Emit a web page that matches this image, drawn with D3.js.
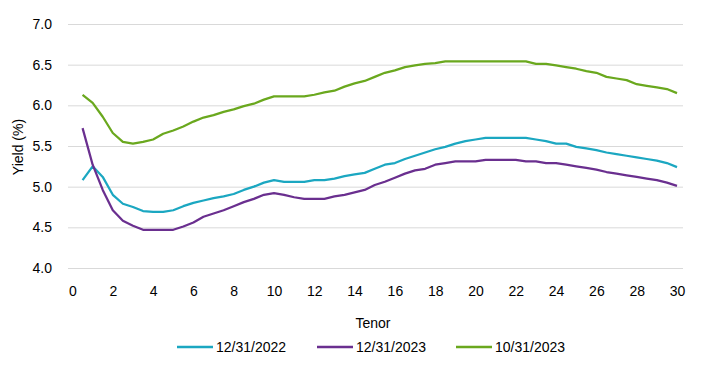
<!DOCTYPE html>
<html><head><meta charset="utf-8">
<script src="https://cdn.jsdelivr.net/npm/d3@7"></script>
<style>
html,body{margin:0;padding:0;background:#fff;}
svg{display:block;font-family:"Liberation Sans",Arial,sans-serif;}
</style></head>
<body><svg id="c" width="704" height="372"></svg>
<script>
const tenors = [0.5,1,1.5,2,2.5,3,3.5,4,4.5,5,5.5,6,6.5,7,7.5,8,8.5,9,9.5,10,
  10.5,11,11.5,12,12.5,13,13.5,14,14.5,15,15.5,16,16.5,17,17.5,18,18.5,19,19.5,20,
  20.5,21,21.5,22,22.5,23,23.5,24,24.5,25,25.5,26,26.5,27,27.5,28,28.5,29,29.5,30];
const y2022 = [5.08,5.25,5.12,4.90,4.79,4.75,4.70,4.69,4.69,4.71,4.76,4.80,4.83,4.86,4.88,4.91,4.96,5.00,5.05,5.08,
  5.06,5.06,5.06,5.08,5.08,5.10,5.13,5.15,5.17,5.22,5.27,5.29,5.34,5.38,5.42,5.46,5.49,5.53,5.56,5.58,
  5.60,5.60,5.60,5.60,5.60,5.58,5.56,5.53,5.53,5.49,5.47,5.45,5.42,5.40,5.38,5.36,5.34,5.32,5.29,5.24];
const y2023 = [5.72,5.27,4.96,4.71,4.58,4.52,4.47,4.47,4.47,4.47,4.51,4.56,4.63,4.67,4.71,4.76,4.81,4.85,4.90,4.92,
  4.90,4.87,4.85,4.85,4.85,4.88,4.90,4.93,4.96,5.02,5.06,5.11,5.16,5.20,5.22,5.27,5.29,5.31,5.31,5.31,
  5.33,5.33,5.33,5.33,5.31,5.31,5.29,5.29,5.27,5.25,5.23,5.21,5.18,5.16,5.14,5.12,5.10,5.08,5.05,5.01];
const yOct2023 = [6.13,6.03,5.86,5.66,5.55,5.53,5.55,5.58,5.65,5.69,5.74,5.80,5.85,5.88,5.92,5.95,5.99,6.02,6.07,6.11,
  6.11,6.11,6.11,6.13,6.16,6.18,6.23,6.27,6.30,6.35,6.40,6.43,6.47,6.49,6.51,6.52,6.54,6.54,6.54,6.54,
  6.54,6.54,6.54,6.54,6.54,6.51,6.51,6.49,6.47,6.45,6.42,6.40,6.35,6.33,6.31,6.26,6.24,6.22,6.20,6.15];
const seriesNames = ["12/31/2022","12/31/2023","10/31/2023"];
const seriesColors = ["#1ba7c1","#6a2f8f","#6aa81e"];
const xTicks = [0,2,4,6,8,10,12,14,16,18,20,22,24,26,28,30];
const yTicks = [4.0,4.5,5.0,5.5,6.0,6.5,7.0];

const svg = d3.select("#c");
const x = d3.scaleLinear().domain([0,30]).range([72.5,677]);
const y = d3.scaleLinear().domain([4,7]).range([268,24]);
const gridX0 = 68, gridX1 = 683;

// gridlines + y labels
const yAxis = d3.axisLeft(y).tickValues(yTicks).tickFormat(d3.format(".1f"))
  .tickSize(-(gridX1-gridX0)).tickPadding(16);
const gy = svg.append("g").attr("transform",`translate(${gridX0},0)`).call(yAxis);
gy.select(".domain").remove();
gy.selectAll(".tick line").attr("stroke","#d9d9d9").attr("stroke-width",1);
gy.selectAll(".tick text").attr("fill","#000").attr("font-size",14)
  .attr("font-family","Liberation Sans, Arial, sans-serif");

// x labels
const xAxis = d3.axisBottom(x).tickValues(xTicks).tickFormat(d3.format("d")).tickSize(0).tickPadding(0);
const gx = svg.append("g").attr("transform","translate(0,286)").call(xAxis);
gx.select(".domain").remove();
gx.selectAll(".tick text").attr("fill","#000").attr("font-size",14).attr("dy","0.71em")
  .attr("font-family","Liberation Sans, Arial, sans-serif");

// axis titles
svg.append("text").attr("transform","translate(23,147) rotate(-90)")
  .attr("text-anchor","middle").attr("font-size",14).attr("fill","#000").text("Yield (%)");
svg.append("text").attr("x",373).attr("y",328).attr("text-anchor","middle")
  .attr("font-size",14).attr("fill","#000").text("Tenor");

// lines
const data = [y2022,y2023,yOct2023];
const line = d3.line().x((d,i)=>x(tenors[i])).y(d=>y(d));
data.forEach((vals,k)=>{
  svg.append("path").datum(vals).attr("d",line).attr("fill","none")
    .attr("stroke",seriesColors[k]).attr("stroke-width",2.25)
    .attr("stroke-linejoin","round");
});

// legend
const legendX = [177,317,456];
seriesNames.forEach((name,k)=>{
  const g = svg.append("g").attr("transform",`translate(${legendX[k]},347)`);
  g.append("line").attr("x1",0).attr("x2",36).attr("y1",0).attr("y2",0)
    .attr("stroke",seriesColors[k]).attr("stroke-width",2.5);
  g.append("text").attr("x",39).attr("y",5).attr("font-size",14).attr("fill","#000").text(name);
});
</script></body></html>
